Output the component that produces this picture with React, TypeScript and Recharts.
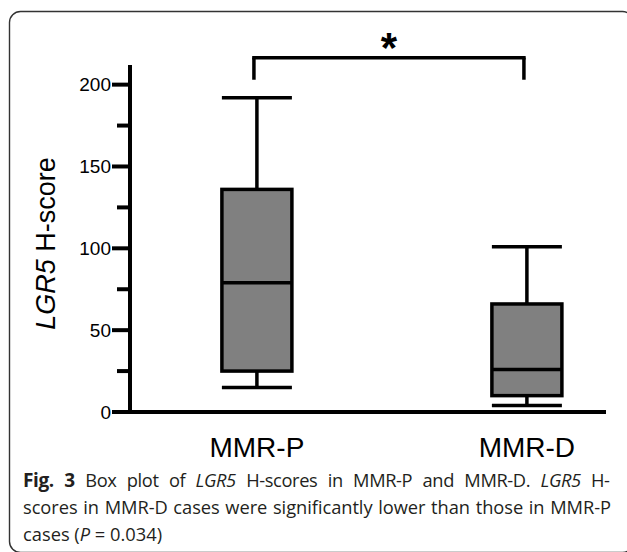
import { ComposedChart, Bar, XAxis, YAxis, ReferenceLine, Label } from "recharts";

const categories = ["MMR-P", "MMR-D"];
const positions = [1, 2];
const mins = [15, 4];
const q1s = [25, 10];
const medians = [79, 26];
const q3s = [136, 66];
const maxs = [192, 101];
const yTicks = [0, 25, 50, 75, 100, 125, 150, 175, 200];

const data = categories.map((name, i) => ({
  name,
  pos: positions[i],
  min: mins[i],
  q1: q1s[i],
  median: medians[i],
  q3: q3s[i],
  max: maxs[i],
}));

const BoxShape = (props: any) => {
  const { x, y, width, height, payload } = props;
  const ppu = height / (payload.max - payload.min);
  const py = (v: number) => y + (payload.max - v) * ppu;
  const cx = x + width / 2;
  const sw = 3.5;
  return (
    <g>
      <line x1={cx} x2={cx} y1={py(payload.max)} y2={py(payload.q3)} stroke="#000" strokeWidth={sw} />
      <line x1={cx} x2={cx} y1={py(payload.q1)} y2={py(payload.min)} stroke="#000" strokeWidth={sw} />
      <line x1={x} x2={x + width} y1={py(payload.max)} y2={py(payload.max)} stroke="#000" strokeWidth={sw} />
      <line x1={x} x2={x + width} y1={py(payload.min)} y2={py(payload.min)} stroke="#000" strokeWidth={sw} />
      <rect
        x={x}
        y={py(payload.q3)}
        width={width}
        height={py(payload.q1) - py(payload.q3)}
        fill="#808080"
        stroke="#000"
        strokeWidth={sw}
      />
      <line x1={x} x2={x + width} y1={py(payload.median)} y2={py(payload.median)} stroke="#000" strokeWidth={sw} />
    </g>
  );
};

const YTick = (props: any) => {
  const { x, y, payload } = props;
  const major = payload.value % 50 === 0;
  return (
    <g>
      <line x1={x - (major ? 18 : 13)} x2={x} y1={y} y2={y} stroke="#000" strokeWidth={4} />
      {major && (
        <text x={x - 19} y={y} dy="0.36em" textAnchor="end" fontSize={19} fontFamily="Arial" fill="#000">
          {payload.value}
        </text>
      )}
    </g>
  );
};

const XTick = (props: any) => {
  const { x, y, payload } = props;
  const idx = positions.indexOf(payload.value);
  return (
    <text x={x} y={y + 45} textAnchor="middle" fontSize={28} fontFamily="Arial" fill="#000">
      {categories[idx]}
    </text>
  );
};

const YLabel = (props: any) => {
  const { viewBox } = props;
  const tx = 55;
  const ty = viewBox.y + viewBox.height / 2 + 5;
  return (
    <text x={tx} y={ty} transform={`rotate(-90, ${tx}, ${ty})`} textAnchor="middle" fontSize={27} fontFamily="Arial" fill="#000">
      <tspan fontStyle="italic">LGR5</tspan> H-score
    </text>
  );
};

const Star = (props: any) => {
  const { viewBox } = props;
  const cx = viewBox.x + viewBox.width / 2;
  return (
    <text x={cx} y={viewBox.y + 4} textAnchor="middle" fontSize={42} fontWeight="bold" fontFamily="Arial" fill="#000">
      *
    </text>
  );
};

export default function App() {
  return (
    <div style={{ position: "absolute", left: 0, top: 0, width: 627, height: 552, overflow: "hidden", background: "#fff" }}>
      <ComposedChart
        width={627}
        height={552}
        data={data}
        margin={{ top: 65, right: 21, bottom: 100, left: 0 }}
      >
        <XAxis
          type="number"
          dataKey="pos"
          domain={[0.53, 2.293]}
          ticks={positions}
          allowDataOverflow
          height={40}
          tickSize={0}
          tickMargin={0}
          tickLine={false}
          axisLine={{ stroke: "#000", strokeWidth: 4 }}
          tick={<XTick />}
        />
        <YAxis
          type="number"
          domain={[0, 212]}
          ticks={yTicks}
          allowDataOverflow
          width={130}
          tickSize={0}
          tickMargin={0}
          tickLine={false}
          axisLine={{ stroke: "#000", strokeWidth: 4 }}
          tick={<YTick />}
        >
          <Label content={<YLabel />} />
        </YAxis>
        <Bar
          dataKey={(d: any) => [d.min, d.max]}
          barSize={70}
          shape={<BoxShape />}
          isAnimationActive={false}
        />
        <ReferenceLine
          segment={[{ x: 0.989, y: 216.5 }, { x: 1.989, y: 216.5 }]}
          ifOverflow="visible"
          stroke="#000"
          strokeWidth={3.5}
          strokeLinecap="square"
          label={<Star />}
        />
        <ReferenceLine
          segment={[{ x: 0.989, y: 216.5 }, { x: 0.989, y: 203 }]}
          ifOverflow="visible"
          stroke="#000"
          strokeWidth={3.5}
        />
        <ReferenceLine
          segment={[{ x: 1.989, y: 216.5 }, { x: 1.989, y: 203 }]}
          ifOverflow="visible"
          stroke="#000"
          strokeWidth={3.5}
        />
      </ComposedChart>
      <svg width={627} height={552} style={{ position: "absolute", left: 0, top: 0, pointerEvents: "none" }}>
        <rect x={9.5} y={11.5} width={624} height={541} rx={11} fill="none" stroke="#333" strokeWidth={1.4} />
        <g fontFamily="'Open Sans'" fontSize={18.3} fill="#231f20">
          <text x={23} y={487} style={{ wordSpacing: 6 }} textLength={587} lengthAdjust="spacing">
            <tspan fontWeight="bold" fontSize={19}>Fig. 3</tspan> Box plot of <tspan fontStyle="italic">LGR5</tspan> H-scores in MMR-P and MMR-D. <tspan fontStyle="italic">LGR5</tspan> H-
          </text>
          <text x={23} y={514} style={{ wordSpacing: 1 }} textLength={588} lengthAdjust="spacing">
            scores in MMR-D cases were significantly lower than those in MMR-P
          </text>
          <text x={23} y={541}>
            cases (<tspan fontStyle="italic">P</tspan> = 0.034)
          </text>
        </g>
      </svg>
    </div>
  );
}
